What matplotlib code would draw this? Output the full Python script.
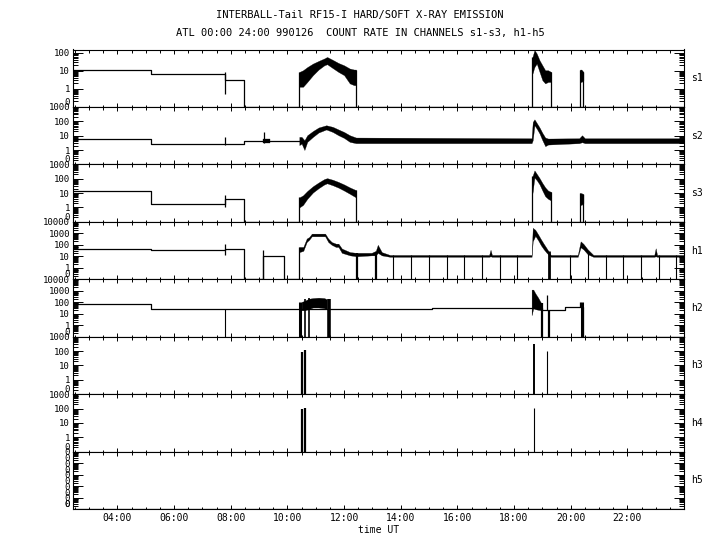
import numpy as np
import matplotlib
matplotlib.use("Agg")
import matplotlib.pyplot as plt
from matplotlib.ticker import FixedLocator, LogLocator, MultipleLocator, NullFormatter, FuncFormatter

plt.rcParams['font.family'] = ['DejaVu Sans Mono']

FLOOR = 0.1          # count rate 0 is drawn on the bottom edge, labelled "0"
T_START, T_END = 2.42, 24.0
LW = 0.9

TITLE = "INTERBALL-Tail RF15-I HARD/SOFT X-RAY EMISSION"
SUBTITLE = "ATL 00:00 24:00 990126  COUNT RATE IN CHANNELS s1-s3, h1-h5"
channels = ["s1", "s2", "s3", "h1", "h2", "h3", "h4", "h5"]
y_tops = [150, 1000, 1000, 10000, 10000, 1000, 1000, 10000]
hour_ticks = [4, 6, 8, 10, 12, 14, 16, 18, 20, 22]

# ── s1 ────────────────────────────────────────────────────────────────────────
s1_t = [2.42, 5.18, 7.80, 8.48, 24.0]
s1_v = [10.7, 7.0, 3.0, 0, 0]
s1_spike_t, s1_spike_lo, s1_spike_hi = [7.80], [0.55], [8.6]
s1_a_t = [10.42, 10.55, 10.7, 10.9, 11.1, 11.3, 11.4, 11.6, 11.8, 12.0, 12.2, 12.35, 12.42]
s1_a_hi = [8.6, 10.7, 16, 25, 35, 48, 58, 40, 27, 20, 13.3, 11.7, 11.7]
s1_a_lo = [1.3, 1.3, 2.4, 5.7, 11.7, 20, 23, 14, 8.6, 5.7, 2.0, 1.6, 1.6]
s1_b_t = [18.65, 18.72, 18.80, 18.90, 19.0, 19.1, 19.2, 19.31]
s1_b_hi = [58, 140, 90, 38, 20, 10.7, 10.7, 8.6]
s1_b_lo = [7.0, 16, 25, 8.6, 3.0, 2.0, 2.4, 2.4]
s1_c_t = [20.33, 20.38, 20.45]
s1_c_hi = [11.7, 11.7, 8.6]
s1_c_lo = [2.4, 2.4, 3.0]

# ── s2 ────────────────────────────────────────────────────────────────────────
s2_t = [2.42, 5.18, 8.48, 10.42]
s2_v = [6.3, 2.5, 4.5, 4.5]
s2_spike_t, s2_spike_lo, s2_spike_hi = [7.80, 9.18], [2.2, 3.3], [8.2, 17]
s2_blob_t = [9.15, 9.38]
s2_blob_hi = [6.3, 6.3]
s2_blob_lo = [3.3, 3.3]
s2_band_t = [10.42, 10.5, 10.6, 10.7, 10.9, 11.1, 11.37, 11.6, 11.8, 12.0, 12.2, 12.42,
             18.62, 18.66, 18.72, 18.8, 18.9, 19.0, 19.1, 19.2, 20.3, 20.4, 20.5, 24.0]
s2_band_hi = [8.2, 8.2, 4.8, 10.7, 21, 37, 53, 41, 27, 18, 10.7, 7.4,
              6.6, 90, 138, 77, 37, 15.5, 7.4, 6.3, 6.6, 10.7, 6.6, 6.6]
s2_band_lo = [2.2, 2.8, 1.0, 3.7, 8.2, 16.6, 27, 18, 10.7, 6.9, 3.7, 3.0,
              3.0, 4.8, 53, 31, 14, 4.8, 1.85, 2.4, 3.0, 3.5, 3.0, 3.0]

# ── s3 ────────────────────────────────────────────────────────────────────────
s3_t = [2.42, 5.18, 7.80, 8.48, 24.0]
s3_v = [13.9, 1.85, 4.1, 0, 0]
s3_spike_t, s3_spike_lo, s3_spike_hi = [7.80], [1.05], [6.9]
s3_a_t = [10.42, 10.55, 10.7, 10.9, 11.1, 11.3, 11.4, 11.6, 11.8, 12.0, 12.2, 12.42]
s3_a_hi = [5, 7, 14, 30, 55, 95, 110, 85, 60, 40, 25, 16]
s3_a_lo = [1.0, 1.5, 4, 11, 22, 40, 48, 35, 24, 15, 9, 5]
s3_b_t = [18.65, 18.72, 18.8, 18.9, 19.0, 19.1, 19.2, 19.31]
s3_b_hi = [150, 380, 220, 110, 50, 25, 15, 12]
s3_b_lo = [10, 120, 80, 40, 15, 6, 4, 3]
s3_c_t = [20.33, 20.38, 20.45]
s3_c_hi = [10, 10, 8]
s3_c_lo = [1.5, 1.5, 2]

# ── h1 ────────────────────────────────────────────────────────────────────────
h1_t = [2.42, 5.18, 7.80, 8.48, 9.15, 9.88, 10.42]
h1_v = [47, 33, 47, 0, 10, 0, 0]
h1_spike_t, h1_spike_lo, h1_spike_hi = [7.80, 9.15], [12, 0], [110, 33]
h1_band_t = [10.42, 10.56, 10.68, 10.77, 10.86, 11.33, 11.44, 11.56, 11.71, 11.8, 11.92,
             12.21, 12.44, 12.97, 13.12, 13.19, 13.33, 13.62, 17.12, 17.17, 17.22,
             18.62, 18.66, 18.75, 18.85, 18.95, 19.05, 19.15, 19.3,
             20.25, 20.35, 20.45, 20.6, 20.8, 22.95, 23.0, 23.05, 24.0]
h1_band_hi = [65, 65, 350, 480, 940, 940, 350, 175, 126, 126, 47,
              23, 20, 20, 30, 100, 23, 13, 13, 37, 13,
              13, 3000, 2000, 800, 300, 120, 50, 13,
              13, 200, 120, 40, 13, 13, 50, 13, 13]
h1_band_lo = [23, 30, 175, 280, 550, 550, 175, 100, 65, 65, 20,
              12, 10, 12, 12, 20, 12, 9, 9, 10, 9,
              9, 200, 600, 250, 90, 40, 20, 9,
              9, 60, 40, 15, 9, 9, 10, 9, 9]
h1_drop_t = [12.47, 13.12, 13.74, 14.37, 14.99, 15.62, 16.24, 16.86, 17.49, 18.11,
             19.22, 19.98, 20.62, 21.23, 21.85, 22.47, 23.10, 23.72]
h1_drop_hi = [20, 20, 12, 12, 12, 12, 12, 12, 12, 12,
              30, 12, 20, 12, 12, 12, 12, 12]
h1_drop_w = [1.6, 1.6, 0.8, 0.8, 0.8, 0.8, 0.8, 0.8, 0.8, 0.8,
             2.0, 0.8, 0.8, 0.8, 0.8, 0.8, 0.8, 0.8]

# ── h2 ────────────────────────────────────────────────────────────────────────
h2_t = [2.42, 5.18, 9.15, 15.09, 18.98, 19.8, 20.45, 24.0]
h2_v = [67, 25, 28, 33, 20, 35, 0, 0]
h2_a_t = [10.50, 10.6, 10.75, 10.9, 11.1, 11.3, 11.39]
h2_a_hi = [107, 130, 200, 230, 250, 230, 180]
h2_a_lo = [20, 20, 25, 35, 35, 30, 25]
h2_b_t = [18.62, 18.68, 18.75, 18.85, 18.95, 18.98]
h2_b_hi = [1260, 1260, 600, 250, 90, 78]
h2_b_lo = [7.4, 30, 25, 22, 20, 20]
h2_spike_t, h2_spike_lo, h2_spike_hi = [19.15, 20.33], [20, 35], [400, 107]
h2_drop_t = [7.80, 10.46, 10.62, 10.76, 11.45, 18.97, 19.22, 20.39]
h2_drop_hi = [25, 107, 200, 220, 180, 80, 23, 107]
h2_drop_w = [0.8, 2.2, 1.2, 1.2, 2.6, 1.6, 1.6, 2.2]

# ── h3, h4, h5 ────────────────────────────────────────────────────────────────
h3_spike_t = [10.50, 10.63, 18.69, 19.15]
h3_spike_hi = [90, 110, 300, 100]
h3_spike_w = [1.6, 1.6, 1.4, 0.8]
h4_spike_t = [10.50, 10.63, 18.69]
h4_spike_hi = [100, 110, 110]
h4_spike_w = [1.6, 1.6, 0.8]
h5_t = [2.42, 24.0]
h5_v = [0, 0]


def zf(v):
    v = np.asarray(v, dtype=float)
    return np.where(v > 0, v, FLOOR)


def steps(ax, t, v):
    ax.plot(t, zf(v), drawstyle="steps-post", color="k", lw=LW)


def band(ax, t, lo, hi, edges=True):
    ax.fill_between(t, zf(lo), zf(hi), color="k", lw=0.2)
    if edges:
        ax.vlines([t[0], t[-1]], FLOOR, [hi[0], hi[-1]], color="k", lw=LW)


def spikes(ax, t, lo, hi, w=LW):
    ax.vlines(t, zf(lo), zf(hi), color="k", lw=w)


fig, axes = plt.subplots(8, 1, sharex=True, figsize=(7.2, 5.5), dpi=100)
fig.subplots_adjust(left=0.101, right=0.95, bottom=0.0745, top=0.910, hspace=0)
ax1, ax2, ax3, ax4, ax5, ax6, ax7, ax8 = axes

steps(ax1, s1_t, s1_v)
spikes(ax1, s1_spike_t, s1_spike_lo, s1_spike_hi)
band(ax1, s1_a_t, s1_a_lo, s1_a_hi)
band(ax1, s1_b_t, s1_b_lo, s1_b_hi)
band(ax1, s1_c_t, s1_c_lo, s1_c_hi)

steps(ax2, s2_t, s2_v)
spikes(ax2, s2_spike_t, s2_spike_lo, s2_spike_hi)
band(ax2, s2_blob_t, s2_blob_lo, s2_blob_hi, edges=False)
band(ax2, s2_band_t, s2_band_lo, s2_band_hi, edges=False)

steps(ax3, s3_t, s3_v)
spikes(ax3, s3_spike_t, s3_spike_lo, s3_spike_hi)
band(ax3, s3_a_t, s3_a_lo, s3_a_hi)
band(ax3, s3_b_t, s3_b_lo, s3_b_hi)
band(ax3, s3_c_t, s3_c_lo, s3_c_hi)

steps(ax4, h1_t, h1_v)
spikes(ax4, h1_spike_t, h1_spike_lo, h1_spike_hi)
band(ax4, h1_band_t, h1_band_lo, h1_band_hi)
spikes(ax4, h1_drop_t, [0] * len(h1_drop_t), h1_drop_hi, h1_drop_w)

steps(ax5, h2_t, h2_v)
band(ax5, h2_a_t, h2_a_lo, h2_a_hi, edges=False)
band(ax5, h2_b_t, h2_b_lo, h2_b_hi, edges=False)
spikes(ax5, h2_spike_t, h2_spike_lo, h2_spike_hi)
spikes(ax5, h2_drop_t, [0] * len(h2_drop_t), h2_drop_hi, h2_drop_w)

spikes(ax6, h3_spike_t, [0] * len(h3_spike_t), h3_spike_hi, h3_spike_w)
spikes(ax7, h4_spike_t, [0] * len(h4_spike_t), h4_spike_hi, h4_spike_w)
steps(ax8, h5_t, h5_v)

zero_fmt = FuncFormatter(lambda v, p: "0" if v < 0.5 else f"{v:.0f}")

for ax, name, top in zip(axes, channels, y_tops):
    ax.set_yscale("log")
    ax.set_xlim(T_START, T_END)
    ax.set_ylim(FLOOR, top)
    majors = [m for m in [0.1, 1, 10, 100, 1000, 10000] if m <= top]
    ax.yaxis.set_major_locator(FixedLocator(majors))
    ax.yaxis.set_minor_locator(LogLocator(base=10, subs=np.arange(2, 10), numticks=50))
    ax.yaxis.set_minor_formatter(NullFormatter())
    if name == "h5":
        ax.yaxis.set_major_formatter(FuncFormatter(lambda v, p: "0"))
        ax.yaxis.set_minor_formatter(FuncFormatter(
            lambda v, p: "0" if abs(v / 10 ** np.floor(np.log10(v)) - 3) < 0.01 else ""))
    else:
        ax.yaxis.set_major_formatter(zero_fmt)
    ax.xaxis.set_major_locator(FixedLocator(hour_ticks))
    ax.xaxis.set_minor_locator(MultipleLocator(0.5))
    ax.xaxis.set_major_formatter(FuncFormatter(lambda v, p: f"{int(v):02d}:00"))
    ax.tick_params(which="both", direction="in", top=True, right=True,
                   width=0.7, labelsize=6.5, pad=2)
    ax.tick_params(axis="y", which="major", length=7)
    ax.tick_params(axis="y", which="minor", length=3.8)
    ax.tick_params(axis="x", which="major", length=3)
    ax.tick_params(axis="x", which="minor", length=1.8)
    for sp in ax.spines.values():
        sp.set_linewidth(0.8)
    ax.text(1.012, 0.5, name, transform=ax.transAxes, va="center", ha="left", fontsize=7)
    ax.yaxis.get_major_ticks()[0].label1.set_verticalalignment("bottom")

ax8.tick_params(axis="x", labelsize=7, pad=3)
ax8.set_xlabel("time UT", fontsize=7, labelpad=1)

fig.text(0.5, 1 - 15 / 550, TITLE, ha="center", va="center", fontsize=7.5)
fig.text(0.5, 1 - 33 / 550, SUBTITLE, ha="center", va="center", fontsize=7.5)

fig.savefig("out.png", dpi=100)
